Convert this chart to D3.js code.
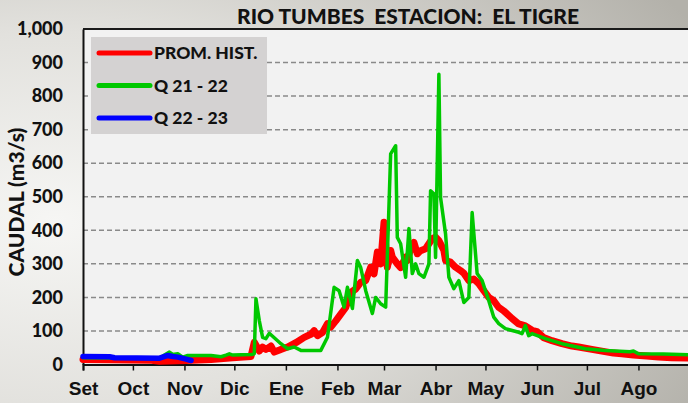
<!DOCTYPE html>
<html>
<head>
<meta charset="utf-8">
<script src="https://cdn.jsdelivr.net/npm/d3@7"></script>
<style>
  html, body { margin: 0; padding: 0; overflow: hidden; }
  svg { display: block; }
</style>
</head>
<body>
<script>
'use strict';

// hydrological year, day 0 = 1 Set
var months = ["Set", "Oct", "Nov", "Dic", "Ene", "Feb", "Mar", "Abr", "May", "Jun", "Jul", "Ago"];
var monthStart = [0, 30, 61, 91, 122, 153, 181, 212, 242, 273, 303, 334];
var yTicks = [0, 100, 200, 300, 400, 500, 600, 700, 800, 900, 1000];

// PROM. HIST.
var promDays = [0, 16, 40, 46, 62, 77, 90, 101, 103, 106, 108, 110, 113, 115, 119, 123, 128, 133, 137, 139,
  141, 144, 147, 149, 152, 155, 158, 161, 164, 167, 170, 173, 175, 177, 179, 181, 183, 185, 186, 189,
  191, 194, 195, 197, 199, 201, 203, 206, 208, 210, 212, 214, 217, 218, 221, 224, 227, 229, 232, 235,
  238, 241, 244, 247, 250, 253, 258, 262, 266, 270, 273, 277, 282, 288, 294, 298, 306, 312, 319, 324,
  331, 339, 346, 354, 365];
var promQ = [15, 14, 13, 10, 12, 15, 20, 24, 66, 40, 52, 45, 55, 37, 45, 52, 65, 81, 90, 101,
  86, 95, 122, 112, 130, 150, 170, 215, 225, 245, 250, 290, 270, 335, 300, 424, 290, 340, 320, 300,
  289, 320, 310, 345, 364, 330, 339, 345, 360, 375, 380, 369, 340, 310, 305, 290, 280, 272, 250, 255,
  241, 220, 200, 190, 170, 160, 137, 121, 115, 102, 98, 80, 71, 62, 55, 52, 45, 40, 34, 32,
  28, 25, 22, 20, 19];

// Q 21 - 22
var q2122Days = [0, 46, 49, 52, 54, 57, 60, 63, 77, 83, 86, 88, 90, 101, 103, 104, 106, 108, 110, 112,
  119, 123, 127, 131, 143, 147, 151, 154, 157, 159, 162, 165, 167, 170, 174, 176, 179, 182, 185, 188,
  189, 191, 194, 196, 198, 200, 202, 205, 208, 209, 211, 212, 214, 215, 218, 220, 223, 226, 229, 232,
  234, 237, 240, 244, 247, 250, 254, 262, 264, 266, 268, 270, 278, 288, 302, 314, 329, 331, 334, 349,
  365];
var q2122Q = [20, 19, 28, 37, 30, 32, 22, 27, 27, 23, 28, 32, 28, 30, 32, 196, 131, 81, 77, 93,
  62, 47, 52, 42, 42, 81, 230, 220, 171, 230, 167, 310, 289, 220, 152, 200, 181, 171, 628, 652,
  379, 360, 260, 405, 271, 300, 271, 260, 300, 518, 509, 319, 865, 498, 390, 260, 226, 250, 185, 200,
  453, 271, 250, 190, 141, 122, 107, 96, 92, 116, 86, 92, 77, 62, 47, 42, 38, 40, 32, 31,
  29];

// Q 22 - 23
var q2223Days = [0, 16, 19, 46, 51, 54, 57, 62, 65];
var q2223Q = [24, 23, 20, 19, 27, 24, 22, 16, 12];

var W = 688, H = 403;
var FONT = "Lato, 'Open Sans', sans-serif";

var svg = d3.select("body").append("svg")
  .attr("width", W)
  .attr("height", H);

var defs = svg.append("defs");
var grad = defs.append("radialGradient")
  .attr("id", "bg")
  .attr("cx", "0.08").attr("cy", "0.55").attr("r", "1.05");
grad.append("stop").attr("offset", "0").attr("stop-color", "#f6f6f4");
grad.append("stop").attr("offset", "0.45").attr("stop-color", "#e2e1dd");
grad.append("stop").attr("offset", "1").attr("stop-color", "#b3b1aa");

svg.append("rect")
  .attr("width", W).attr("height", H)
  .attr("fill", "url(#bg)");

var x = d3.scaleLinear().domain([0, 365]).range([83, 690]);
var y = d3.scaleLinear().domain([0, 1000]).range([364.5, 29]);

// plot area
svg.append("rect")
  .attr("x", x(0)).attr("y", y(1000))
  .attr("width", W - x(0)).attr("height", y(0) - y(1000))
  .attr("fill", "#f2f2f2");

// grid
svg.append("g").selectAll("line")
  .data(yTicks.filter(function(t){ return t > 0 && t < 1000; }))
  .enter().append("line")
  .attr("x1", x(0)).attr("x2", W)
  .attr("y1", function(d){ return y(d); })
  .attr("y2", function(d){ return y(d); })
  .attr("stroke", "#8a8a8a")
  .attr("stroke-width", 1.5)
  .attr("stroke-dasharray", "5,3");

// top border
svg.append("line")
  .attr("x1", x(0)).attr("x2", W)
  .attr("y1", y(1000)).attr("y2", y(1000))
  .attr("stroke", "#1a1a1a").attr("stroke-width", 2);

// y axis
var yAxis = d3.axisLeft(y)
  .tickValues(yTicks)
  .tickSize(0)
  .tickPadding(20)
  .tickFormat(d3.format(","));
var gy = svg.append("g")
  .attr("transform", "translate(" + x(0) + ",0)")
  .call(yAxis);
gy.select(".domain").attr("stroke", "#111").attr("stroke-width", 2);
gy.selectAll("text")
  .attr("font-family", FONT)
  .attr("font-weight", "900")
  .attr("font-size", "18px")
  .attr("fill", "#111");

// x axis
var xAxis = d3.axisBottom(x)
  .tickValues(monthStart)
  .tickSize(6)
  .tickPadding(11)
  .tickFormat(function(d, i){ return months[i]; });
var gx = svg.append("g")
  .attr("transform", "translate(0," + y(0) + ")")
  .call(xAxis);
gx.select(".domain").attr("stroke", "#111").attr("stroke-width", 2);
gx.selectAll(".tick line").attr("stroke", "#111").attr("stroke-width", 1.5);
gx.selectAll("text")
  .attr("font-family", "'Liberation Sans', Arial, sans-serif")
  .attr("font-weight", "bold")
  .attr("font-size", "19px")
  .attr("fill", "#111");

// series
var line = d3.line()
  .x(function(d){ return x(d[0]); })
  .y(function(d){ return y(d[1]); });

var series = [
  { name: "PROM. HIST.", days: promDays, q: promQ, color: "#ff0000", width: 7 },
  { name: "Q 21 - 22", days: q2122Days, q: q2122Q, color: "#00c800", width: 3.5 },
  { name: "Q 22 - 23", days: q2223Days, q: q2223Q, color: "#0000ff", width: 5.5 }
];

svg.append("g").selectAll("path")
  .data(series)
  .enter().append("path")
  .attr("d", function(s){ return line(d3.zip(s.days, s.q)); })
  .attr("fill", "none")
  .attr("stroke", function(s){ return s.color; })
  .attr("stroke-width", function(s){ return s.width; })
  .attr("stroke-linejoin", "round")
  .attr("stroke-linecap", "round");

// legend
var lg = svg.append("g").attr("transform", "translate(91,37)");
lg.append("rect")
  .attr("width", 176).attr("height", 97)
  .attr("fill", "#d4d2d2");
var items = lg.selectAll("g.item")
  .data(series)
  .enter().append("g")
  .attr("class", "item")
  .attr("transform", function(d, i){ return "translate(0," + (16 + i * 32.5) + ")"; });
items.append("line")
  .attr("x1", 8).attr("x2", 59)
  .attr("stroke", function(d){ return d.color; })
  .attr("stroke-width", 5)
  .attr("stroke-linecap", "round");
items.append("text")
  .attr("x", 63).attr("y", 6)
  .attr("font-family", FONT)
  .attr("font-weight", "900")
  .attr("font-size", "17.5px")
  .attr("fill", "#111")
  .text(function(d){ return d.name; });

// title
svg.append("text")
  .attr("x", 408).attr("y", 24)
  .attr("text-anchor", "middle")
  .attr("font-family", FONT)
  .attr("font-weight", "900")
  .attr("font-size", "21px")
  .attr("fill", "#111")
  .attr("xml:space", "preserve")
  .style("white-space", "pre")
  .text("RIO TUMBES  ESTACION:  EL TIGRE");

// y title
svg.append("text")
  .attr("transform", "translate(24,202) rotate(-90)")
  .attr("text-anchor", "middle")
  .attr("font-family", FONT)
  .attr("font-weight", "900")
  .attr("font-size", "21px")
  .attr("fill", "#111")
  .text("CAUDAL (m3/s)");
</script>
</body>
</html>
